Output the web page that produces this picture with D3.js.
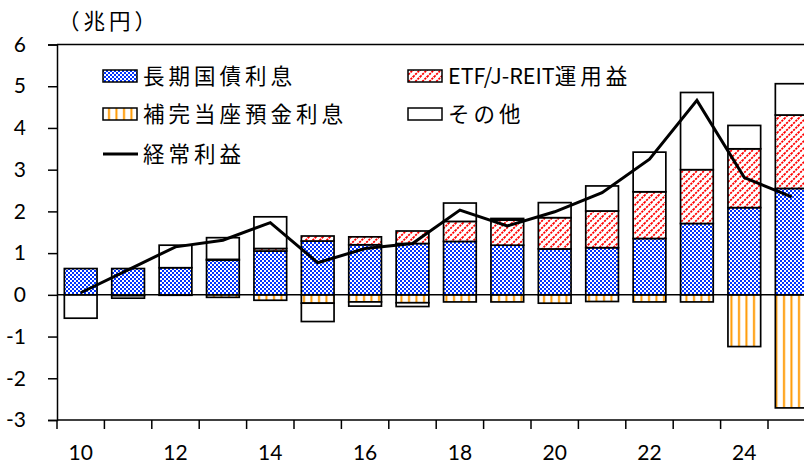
<!DOCTYPE html>
<html>
<head>
<meta charset="utf-8">
<script src="https://cdn.jsdelivr.net/npm/d3@7"></script>
<style>
  html, body { margin: 0; padding: 0; background: #fff; }
  svg { display: block; }
  .num { font-family: Lato, "Open Sans", sans-serif; font-size: 21px; fill: #000; }
  .jp { font-family: "Noto Sans CJK JP", sans-serif; fill: #000; }
</style>
</head>
<body>
<div id="chart"></div>
<script>
// fiscal years (last two digits)
const years = [10, 11, 12, 13, 14, 15, 16, 17, 18, 19, 20, 21, 22, 23, 24, 25];
// 長期国債利息
const jgbInterest = [0.63, 0.63, 0.65, 0.83, 1.05, 1.29, 1.20, 1.23, 1.28, 1.19, 1.10, 1.13, 1.35, 1.71, 2.09, 2.55];
// ETF/J-REIT運用益
const etfGain = [0, 0, 0, 0.02, 0.06, 0.12, 0.19, 0.30, 0.48, 0.60, 0.75, 0.88, 1.12, 1.29, 1.41, 1.76];
// 補完当座預金利息 (cost, negative)
const reserveInterest = [0, -0.02, -0.01, -0.06, -0.13, -0.20, -0.17, -0.19, -0.17, -0.17, -0.20, -0.16, -0.17, -0.17, -1.24, -2.71];
// その他 (signed)
const otherItems = [-0.56, -0.06, 0.54, 0.52, 0.76, -0.44, -0.10, -0.09, 0.44, 0.04, 0.36, 0.60, 0.95, 1.85, 0.56, 0.75];
// 経常利益
const ordinaryProfit = [0.05, 0.60, 1.15, 1.31, 1.73, 0.77, 1.11, 1.23, 2.03, 1.65, 1.99, 2.45, 3.25, 4.66, 2.81, 2.35];

const yTicks = [-3, -2, -1, 0, 1, 2, 3, 4, 5, 6];
const xLabelYears = [10, 12, 14, 16, 18, 20, 22, 24];

const width = 804, height = 465;
const svg = d3.select("#chart").append("svg")
  .attr("width", width)
  .attr("height", height);

// patterns
const defs = svg.append("defs");
const pBlue = defs.append("pattern").attr("id", "pBlue")
  .attr("patternUnits", "userSpaceOnUse").attr("width", 4).attr("height", 4);
pBlue.append("rect").attr("width", 4).attr("height", 4).attr("fill", "#fff");
pBlue.append("rect").attr("x", 0).attr("y", 0).attr("width", 2).attr("height", 2).attr("fill", "#0033ff");
pBlue.append("rect").attr("x", 2).attr("y", 2).attr("width", 2).attr("height", 2).attr("fill", "#0033ff");

const pRed = defs.append("pattern").attr("id", "pRed")
  .attr("patternUnits", "userSpaceOnUse").attr("width", 7).attr("height", 7);
pRed.append("rect").attr("width", 7).attr("height", 7).attr("fill", "#fff");
pRed.append("path").attr("d", "M0,7 L7,0 M-1,1 L1,-1 M6,8 L8,6")
  .attr("stroke", "#ff0000").attr("stroke-width", 1.8).attr("stroke-dasharray", "2.2,1");

const pOrange = defs.append("pattern").attr("id", "pOrange")
  .attr("patternUnits", "userSpaceOnUse").attr("width", 7.5).attr("height", 8);
pOrange.append("rect").attr("width", 7.5).attr("height", 8).attr("fill", "#fff");
pOrange.append("rect").attr("x", 3).attr("y", 0).attr("width", 2).attr("height", 8).attr("fill", "#ff9900");

// scales
const x = d3.scaleBand()
  .domain(years)
  .range([57, 57 + 16 * 47.4])
  .paddingInner(0.31)
  .paddingOuter(0.155);

const y = d3.scaleLinear().domain([-3, 6]).range([420, 44.5]);

// build stacked segments
const segments = [];
years.forEach((yr, i) => {
  let pos = 0, neg = 0;
  const add = (v, fill) => {
    if (v > 0) { segments.push({ yr, y0: pos, y1: pos + v, fill }); pos += v; }
    else if (v < 0) { segments.push({ yr, y0: neg + v, y1: neg, fill }); neg += v; }
  };
  add(jgbInterest[i], "url(#pBlue)");
  add(etfGain[i], "url(#pRed)");
  add(reserveInterest[i], "url(#pOrange)");
  add(otherItems[i], "#fff");
});

svg.append("g").selectAll("rect")
  .data(segments)
  .join("rect")
  .attr("x", d => x(d.yr))
  .attr("width", x.bandwidth())
  .attr("y", d => y(d.y1))
  .attr("height", d => y(d.y0) - y(d.y1))
  .attr("fill", d => d.fill)
  .attr("stroke", "#000")
  .attr("stroke-width", 1.7);

// zero line
svg.append("line")
  .attr("x1", 57).attr("x2", width)
  .attr("y1", y(0)).attr("y2", y(0))
  .attr("stroke", "#000").attr("stroke-width", 1.5);

// top border
svg.append("line")
  .attr("x1", 57).attr("x2", width)
  .attr("y1", y(6)).attr("y2", y(6))
  .attr("stroke", "#000").attr("stroke-width", 1.5);

// y axis
const yAxis = svg.append("g")
  .attr("transform", "translate(57,0)")
  .call(d3.axisLeft(y).tickValues(yTicks).tickSize(9).tickPadding(22).tickFormat(d => String(d)));
yAxis.select(".domain").attr("stroke-width", 1.5);
yAxis.selectAll(".tick line").attr("stroke-width", 1.5);
yAxis.selectAll("text").attr("class", "num").attr("font-size", null).attr("font-family", null);

// x axis
const boundaries = d3.range(years.length + 1).map(i => 57 + i * x.step());
svg.append("line")
  .attr("x1", 57).attr("x2", width)
  .attr("y1", y(-3)).attr("y2", y(-3))
  .attr("stroke", "#000").attr("stroke-width", 1.5);
svg.append("g").selectAll("line")
  .data(boundaries)
  .join("line")
  .attr("x1", d => d).attr("x2", d => d)
  .attr("y1", y(-3)).attr("y2", y(-3) + 9)
  .attr("stroke", "#000").attr("stroke-width", 1.5);
svg.append("g").selectAll("text")
  .data(xLabelYears)
  .join("text")
  .attr("class", "num")
  .attr("x", d => x(d) + x.bandwidth() / 2)
  .attr("y", 453)
  .attr("dy", "0.35em")
  .attr("text-anchor", "middle")
  .text(d => d);

// ordinary profit line
const line = d3.line()
  .x((d, i) => x(years[i]) + x.bandwidth() / 2)
  .y(d => y(d));
svg.append("path")
  .datum(ordinaryProfit)
  .attr("d", line)
  .attr("fill", "none")
  .attr("stroke", "#000")
  .attr("stroke-width", 3)
  .attr("stroke-linejoin", "miter");

// unit label
svg.append("text")
  .attr("class", "jp")
  .attr("x", 58).attr("y", 21)
  .attr("dy", "0.36em")
  .attr("font-size", 21.5)
  .attr("letter-spacing", 4)
  .text("（兆円）");

// legend
const legendItems = [
  { label: "長期国債利息", fill: "url(#pBlue)", lx: 103, ly: 76 },
  { label: "ETF/J-REIT運用益", fill: "url(#pRed)", lx: 408, ly: 76 },
  { label: "補完当座預金利息", fill: "url(#pOrange)", lx: 103, ly: 114 },
  { label: "その他", fill: "#fff", lx: 408, ly: 114 },
  { label: "経常利益", fill: null, lx: 103, ly: 154 }
];
const lg = svg.append("g");
legendItems.forEach(it => {
  if (it.fill) {
    lg.append("rect")
      .attr("x", it.lx).attr("y", it.ly - 6)
      .attr("width", 34).attr("height", 12)
      .attr("fill", it.fill)
      .attr("stroke", "#000").attr("stroke-width", 1.5);
  } else {
    lg.append("line")
      .attr("x1", it.lx).attr("x2", it.lx + 35)
      .attr("y1", it.ly).attr("y2", it.ly)
      .attr("stroke", "#000").attr("stroke-width", 3);
  }
  const t = lg.append("text")
    .attr("class", "jp")
    .attr("x", it.lx + 40).attr("y", it.ly)
    .attr("dy", "0.36em")
    .attr("font-size", 21.5);
  const m = it.label.match(/^([A-Za-z\/\-]*)(.*)$/);
  if (m[1]) t.append("tspan").text(m[1]);
  t.append("tspan").attr("letter-spacing", 4).text(m[2]);
});
</script>
</body>
</html>
